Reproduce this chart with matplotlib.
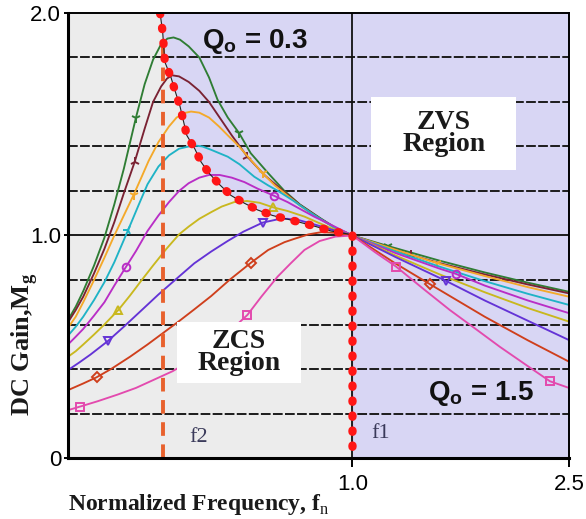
import matplotlib
matplotlib.use("Agg")
import matplotlib.pyplot as plt
from matplotlib.patches import Rectangle
from matplotlib.ticker import NullLocator

plt.rcParams["font.family"] = "Liberation Sans"
plt.rcParams["mathtext.fontset"] = "custom"
plt.rcParams["mathtext.rm"] = "Liberation Serif"
plt.rcParams["mathtext.bf"] = "Liberation Serif:bold"
plt.rcParams["mathtext.sf"] = "Liberation Sans:bold"

# ---- gain curves (normalized frequency -> DC gain) ----
f_green = [0.30, 0.31, 0.32, 0.335, 0.35, 0.365, 0.38, 0.40, 0.415, 0.43,
           0.445, 0.457, 0.469, 0.482, 0.50, 0.523, 0.545, 0.565, 0.59, 0.619,
           0.65, 0.70, 0.75, 0.80, 0.87, 0.93, 1.0, 1.161, 1.45, 1.75, 2.1, 2.5]
m_green = [0.62, 0.68, 0.75, 0.865, 0.99, 1.14, 1.30, 1.53, 1.68, 1.79,
           1.86, 1.885, 1.89, 1.88, 1.85, 1.80, 1.71, 1.61, 1.53, 1.46,
           1.37, 1.28, 1.20, 1.14, 1.08, 1.035, 1.0, 0.953, 0.886, 0.834, 0.788, 0.747]

f_brown = [0.30, 0.31, 0.32, 0.335, 0.35, 0.365, 0.38, 0.398, 0.415, 0.43,
           0.445, 0.456, 0.466, 0.48, 0.50, 0.523, 0.545, 0.57, 0.60, 0.641,
           0.69, 0.75, 0.80, 0.87, 0.93, 1.0, 1.283, 1.45, 1.75, 2.1, 2.5]
m_brown = [0.61, 0.665, 0.725, 0.83, 0.94, 1.06, 1.19, 1.332, 1.48, 1.60,
           1.67, 1.705, 1.72, 1.715, 1.69, 1.65, 1.60, 1.53, 1.45, 1.354,
           1.27, 1.195, 1.138, 1.078, 1.033, 1.0, 0.912, 0.875, 0.825, 0.78, 0.74]

f_orange = [0.30, 0.31, 0.32, 0.335, 0.35, 0.365, 0.38, 0.396, 0.41, 0.422,
            0.44, 0.46, 0.475, 0.49, 0.505, 0.523, 0.545, 0.569, 0.59, 0.619,
            0.65, 0.684, 0.72, 0.75, 0.80, 0.87, 0.93, 1.0, 1.2, 1.43, 1.75, 2.1, 2.5]
m_orange = [0.585, 0.635, 0.70, 0.80, 0.90, 1.00, 1.09, 1.182, 1.265, 1.335,
            1.42, 1.49, 1.53, 1.55, 1.557, 1.552, 1.53, 1.489, 1.45, 1.40,
            1.34, 1.28, 1.225, 1.19, 1.135, 1.075, 1.033, 1.0, 0.936, 0.876, 0.818, 0.768, 0.725]

f_cyan = [0.30, 0.31, 0.32, 0.335, 0.35, 0.365, 0.387, 0.405, 0.42, 0.44,
          0.46, 0.48, 0.50, 0.512, 0.53, 0.55, 0.59, 0.62, 0.66, 0.70,
          0.73, 0.78, 0.84, 0.92, 1.0, 1.2, 1.45, 1.75, 2.1, 2.5]
m_cyan = [0.55, 0.59, 0.635, 0.71, 0.79, 0.88, 1.025, 1.14, 1.23, 1.31,
          1.36, 1.39, 1.40, 1.405, 1.40, 1.385, 1.354, 1.32, 1.264, 1.225,
          1.20, 1.155, 1.10, 1.04, 1.0, 0.928, 0.859, 0.795, 0.738, 0.688]

f_magenta = [0.30, 0.31, 0.32, 0.335, 0.35, 0.365, 0.383, 0.40, 0.42, 0.44,
             0.46, 0.48, 0.50, 0.523, 0.545, 0.57, 0.60, 0.633, 0.67, 0.7185,
             0.76, 0.80, 0.85, 0.91, 1.0, 1.2, 1.45, 1.547, 1.75, 2.1, 2.5]
m_magenta = [0.51, 0.545, 0.58, 0.64, 0.70, 0.775, 0.857, 0.93, 1.02, 1.09,
             1.15, 1.20, 1.235, 1.26, 1.272, 1.272, 1.26, 1.24, 1.21, 1.178,
             1.15, 1.12, 1.085, 1.05, 1.0, 0.921, 0.85, 0.828, 0.775, 0.708, 0.651]

f_olive = [0.30, 0.31, 0.32, 0.335, 0.35, 0.3712, 0.39, 0.41, 0.43, 0.455,
           0.48, 0.50, 0.523, 0.55, 0.575, 0.606, 0.64, 0.675, 0.7135, 0.76,
           0.816, 0.87, 0.93, 1.0, 1.2, 1.45, 1.75, 2.1, 2.5]
m_olive = [0.455, 0.48, 0.51, 0.555, 0.60, 0.665, 0.73, 0.80, 0.865, 0.94,
           1.005, 1.04, 1.075, 1.105, 1.13, 1.15, 1.155, 1.147, 1.127, 1.11,
           1.085, 1.055, 1.025, 1.0, 0.91, 0.824, 0.745, 0.674, 0.613]

f_violet = [0.30, 0.315, 0.33, 0.3557, 0.38, 0.41, 0.44, 0.472, 0.512, 0.55,
            0.5895, 0.63, 0.684, 0.73, 0.76, 0.80, 0.85, 0.92, 1.0, 1.2,
            1.488, 1.75, 2.1, 2.5]
m_violet = [0.395, 0.43, 0.465, 0.527, 0.59, 0.665, 0.735, 0.80, 0.875, 0.928,
            0.975, 1.017, 1.058, 1.073, 1.075, 1.068, 1.05, 1.025, 1.0, 0.903,
            0.795, 0.708, 0.617, 0.53]

f_red = [0.30, 0.32, 0.3387, 0.36, 0.39, 0.42, 0.4476, 0.48, 0.512, 0.55,
         0.594, 0.651, 0.70, 0.75, 0.782, 0.83, 0.876, 0.93, 1.0, 1.2,
         1.386, 1.75, 2.1, 2.5]
m_red = [0.305, 0.335, 0.363, 0.40, 0.455, 0.51, 0.56, 0.615, 0.668, 0.728,
         0.80, 0.878, 0.935, 0.97, 0.985, 1.005, 1.015, 1.012, 1.0, 0.874,
         0.782, 0.635, 0.529, 0.433]

f_pink = [0.30, 0.3156, 0.34, 0.37, 0.40, 0.43, 0.467, 0.51, 0.56, 0.60,
          0.641, 0.68, 0.7284, 0.77, 0.816, 0.87, 0.93, 1.0, 1.1, 1.203,
          1.35, 1.51, 1.68, 1.865, 2.08, 2.306, 2.5]
m_pink = [0.215, 0.231, 0.255, 0.285, 0.315, 0.35, 0.39, 0.445, 0.515, 0.578,
          0.643, 0.725, 0.815, 0.875, 0.935, 0.975, 0.995, 1.0, 0.925, 0.86,
          0.76, 0.665, 0.582, 0.50, 0.42, 0.345, 0.315]

# frequencies where the curves carry a marker
marks_green = [0.40, 0.619, 1.161]
marks_brown = [0.398, 0.641, 1.283]
marks_orange = [0.396, 0.684, 1.43]
marks_cyan = [0.387]
marks_magenta = [0.383, 0.7185, 1.547]
marks_olive = [0.3712, 0.7135]
marks_violet = [0.3557, 0.684, 1.488]
marks_red = [0.3387, 0.651, 1.386]
marks_pink = [0.3156, 0.641, 1.203, 2.306]

# ZVS / ZCS boundary (peak-gain locus, then down along f1)
locus_f = [0.443, 0.448, 0.452, 0.464, 0.472, 0.482, 0.496, 0.513, 0.527, 0.545,
           0.569, 0.598, 0.633, 0.669, 0.713, 0.760, 0.804, 0.857, 0.914, 0.980, 1.0, 1.0]
locus_m = [2.00, 1.91, 1.78, 1.71, 1.65, 1.58, 1.45, 1.39, 1.33, 1.28,
           1.23, 1.18, 1.145, 1.115, 1.09, 1.073, 1.058, 1.04, 1.02, 1.007, 1.0, 0.05]

f2 = 0.449
grid_m = [0.2, 0.4, 0.6, 0.8, 1.0, 1.2, 1.4, 1.6, 1.8]

curves = [
    (f_green, m_green, marks_green, "#2f7d34", "1"),
    (f_brown, m_brown, marks_brown, "#7a2233", "2"),
    (f_orange, m_orange, marks_orange, "#f4a92a", "1"),
    (f_cyan, m_cyan, marks_cyan, "#1fb3c6", "3"),
    (f_magenta, m_magenta, marks_magenta, "#b92ec6", "o"),
    (f_olive, m_olive, marks_olive, "#c9b81e", "^"),
    (f_violet, m_violet, marks_violet, "#6433d6", "v"),
    (f_red, m_red, marks_red, "#cf3f1c", "D"),
    (f_pink, m_pink, marks_pink, "#e34aae", "s"),
]

fig = plt.figure(figsize=(5.86, 5.19), dpi=100)
ax = fig.add_axes([0.116, 0.1175, 0.855, 0.8575])
ax.set_xscale("log")
ax.set_xlim(0.3, 2.5)
ax.set_ylim(0, 2.0)
ax.set_facecolor("#d8d6f4")

# grey ZCS side left of / below the boundary
ax.fill([0.3, 0.3] + locus_f + [1.0], [0.0, 2.0] + locus_m + [0.0],
        color="#ececec", lw=0, zorder=0.5)

for g in grid_m:
    ls = "-" if g == 1.0 else (0, (5, 1.2))
    ax.axhline(g, color="#1c1c1c", lw=1.4, ls=ls, zorder=1)
ax.axvline(1.0, color="#111111", lw=1.3, zorder=1.2)

for fx, my, marks, col, mk in curves:
    idx = [fx.index(v) for v in marks]
    filled = mk in ("1", "2", "3")
    ax.plot(fx, my, color=col, lw=1.35, zorder=2,
            marker=mk, markevery=idx, ms=7 if filled else 5.5,
            mfc=col if filled else "none", mec=col, mew=1.4)

ax.plot([f2, f2], [0.0, 1.85], color="#e8612d", lw=2.8,
        ls=(0, (3.5, 2.2)), zorder=2.8)
ax.plot(locus_f, locus_m, color="#222222", lw=0.8, zorder=2.9)
ax.plot(locus_f, locus_m, color="#ff1616", lw=6.0, ls=(0, (0.15, 1.65)),
        dash_capstyle="round", zorder=3)

# region boxes
ax.add_patch(Rectangle((0.476, 0.337), 0.8055 - 0.476, 0.611 - 0.337,
                       facecolor="white", edgecolor="none", zorder=4))
ax.add_patch(Rectangle((1.082, 1.294), 2.0 - 1.082, 1.624 - 1.294,
                       facecolor="white", edgecolor="none", zorder=4))
ax.text(0.619, 0.474, "ZCS\nRegion", ha="center", va="center", zorder=5,
        family="Liberation Serif", weight="bold", size=20, linespacing=0.85,
        color="#1a1a1a")
ax.text(1.471, 1.459, "ZVS\nRegion", ha="center", va="center", zorder=5,
        family="Liberation Serif", weight="bold", size=20, linespacing=0.85,
        color="#1a1a1a")

ax.text(0.529, 1.87, r"Q$_\mathsf{o}$ = 0.3", ha="left", va="center", zorder=5,
        family="Liberation Sans", weight="bold", size=20, color="#111111")
ax.text(1.374, 0.292, r"Q$_\mathsf{o}$ = 1.5", ha="left", va="center", zorder=5,
        family="Liberation Sans", weight="bold", size=20, color="#111111")

ax.text(0.501, 0.09, "f2", ha="left", va="center", zorder=5,
        family="Liberation Serif", size=16, color="#3a3a5a")
ax.text(1.083, 0.108, "f1", ha="left", va="center", zorder=5,
        family="Liberation Serif", size=16, color="#3a3a5a")

ax.set_xticks([1.0, 2.5])
ax.set_xticklabels(["1.0", "2.5"])
ax.xaxis.set_minor_locator(NullLocator())
ax.set_yticks([0.0, 1.0, 2.0])
ax.set_yticklabels(["0", "1.0", "2.0"])
ax.tick_params(axis="x", direction="out", length=6.5, width=1.4, pad=5, labelsize=16)
ax.tick_params(axis="y", direction="out", length=3, width=1.4, pad=2, labelsize=16)

for side in ("left", "bottom"):
    ax.spines[side].set_linewidth(2.2)
for side in ("top", "right"):
    ax.spines[side].set_linewidth(1.4)
for sp in ax.spines.values():
    sp.set_zorder(6)

fig.text(68 / 586, 1 - 510 / 519, r"Normalized Frequency, f$_\mathrm{n}$",
         ha="left", va="baseline", family="Liberation Serif", weight="bold",
         size=17, color="#1a1a1a")
fig.text(25 / 586, 1 - 344 / 519, r"DC Gain,M$_\mathbf{g}$", rotation=90,
         ha="center", va="center", family="Liberation Serif", weight="bold",
         size=19, color="#1a1a1a")

fig.savefig("out.png", dpi=100)
